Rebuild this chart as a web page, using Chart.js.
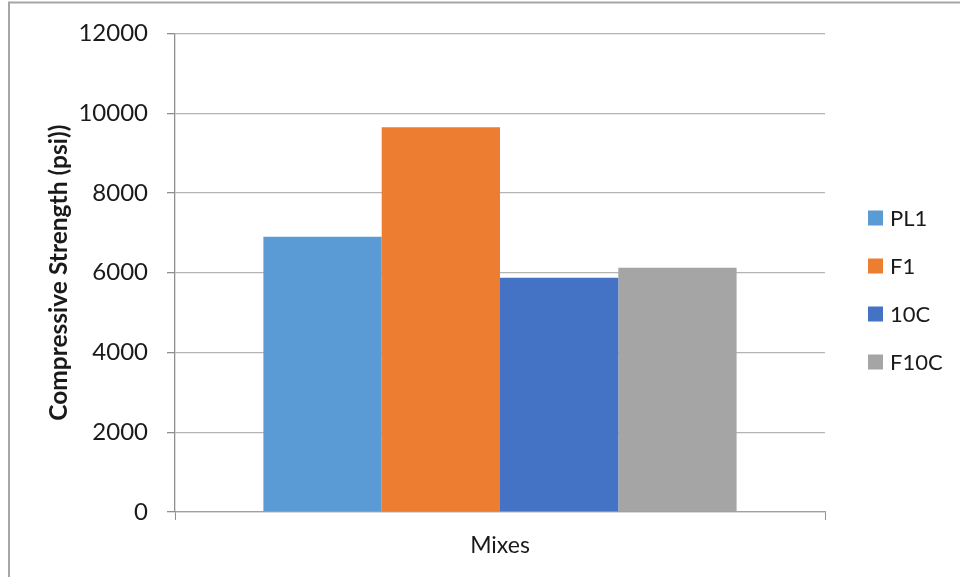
<!DOCTYPE html>
<html>
<head>
<meta charset="utf-8">
<title>Compressive Strength by Mix</title>
<script src="https://cdn.jsdelivr.net/npm/chart.js@4.4.1/dist/chart.umd.min.js"></script>
<style>
  html, body { margin: 0; padding: 0; background: #ffffff; }
  #wrap { width: 960px; height: 577px; position: relative; }
</style>
</head>
<body>
<div id="wrap"><canvas id="chart" width="960" height="577"></canvas></div>
<script>
// Data
const categories = [''];
const seriesNames = ['PL1', 'F1', '10C', 'F10C'];
const pl1Values = [6900];
const f1Values = [9650];
const c10Values = [5875];
const f10cValues = [6125];
const yMin = 0;
const yMax = 12000;
const yStep = 2000;

const seriesValues = [pl1Values, f1Values, c10Values, f10cValues];
const seriesColors = ['#5B9BD5', '#ED7D31', '#4472C4', '#A5A5A5'];

const FONT = 'Lato';
const TEXT = '#1a1a1a';

// Thin frame on the left and top edges
const framePlugin = {
  id: 'frame',
  beforeDraw(chart) {
    const ctx = chart.ctx;
    ctx.save();
    ctx.fillStyle = '#ffffff';
    ctx.fillRect(0, 0, chart.width, chart.height);
    ctx.strokeStyle = '#a6a6a6';
    ctx.lineWidth = 2;
    ctx.beginPath();
    ctx.moveTo(9, chart.height);
    ctx.lineTo(9, 2.5);
    ctx.lineTo(chart.width, 2.5);
    ctx.stroke();
    ctx.restore();
  }
};

// Vertical legend in the right margin
const sideLegend = {
  id: 'sideLegend',
  afterDraw(chart) {
    const ctx = chart.ctx;
    const area = chart.chartArea;
    const x0 = area.right + 43;
    const yStart = 218;
    const rowGap = 48;
    ctx.save();
    ctx.font = '22px ' + FONT;
    ctx.textBaseline = 'middle';
    chart.data.datasets.forEach((ds, i) => {
      const y = yStart + i * rowGap;
      ctx.fillStyle = ds.backgroundColor;
      ctx.fillRect(x0, y - 7.5, 15, 15);
      ctx.fillStyle = TEXT;
      ctx.fillText(ds.label, x0 + 22, y + 1);
    });
    ctx.restore();
  }
};

new Chart(document.getElementById('chart'), {
  type: 'bar',
  data: {
    labels: categories,
    datasets: seriesNames.map((name, i) => ({
      label: name,
      data: seriesValues[i],
      backgroundColor: seriesColors[i],
      borderWidth: 0,
      categoryPercentage: 0.728,
      barPercentage: 1.0
    }))
  },
  options: {
    responsive: false,
    animation: false,
    devicePixelRatio: 1,
    layout: { padding: { left: 0, right: 135, top: 32, bottom: 10 } },
    plugins: {
      legend: { display: false },
      tooltip: { enabled: false }
    },
    scales: {
      x: {
        offset: true,
        afterFit(scale) { scale.height = 55; },
        grid: {
          display: true,
          offset: true,
          drawOnChartArea: false,
          drawTicks: true,
          tickLength: 8,
          color: '#8f8f8f',
          lineWidth: 1
        },
        border: { display: true, color: '#a0a0a0', width: 1.3 },
        ticks: { display: false },
        title: {
          display: true,
          text: 'Mixes',
          color: TEXT,
          font: { family: FONT, size: 23 },
          padding: { top: 0, bottom: 8 }
        }
      },
      y: {
        min: yMin,
        max: yMax,
        afterFit(scale) { scale.width = 175; },
        ticks: {
          stepSize: yStep,
          color: TEXT,
          padding: 19,
          font: { family: FONT, size: 24 },
          callback: (value) => String(value)
        },
        grid: {
          color: '#b4b4b4',
          lineWidth: 1.3,
          tickColor: '#8f8f8f',
          tickLength: 8
        },
        border: { display: true, color: '#8f8f8f', width: 1.3 },
        title: {
          display: true,
          text: 'Compressive Strength (psi))',
          color: TEXT,
          font: { family: FONT, size: 24.5, weight: 'bold' },
          padding: { top: 44, bottom: 0 }
        }
      }
    }
  },
  plugins: [framePlugin, sideLegend]
});
</script>
</body>
</html>
